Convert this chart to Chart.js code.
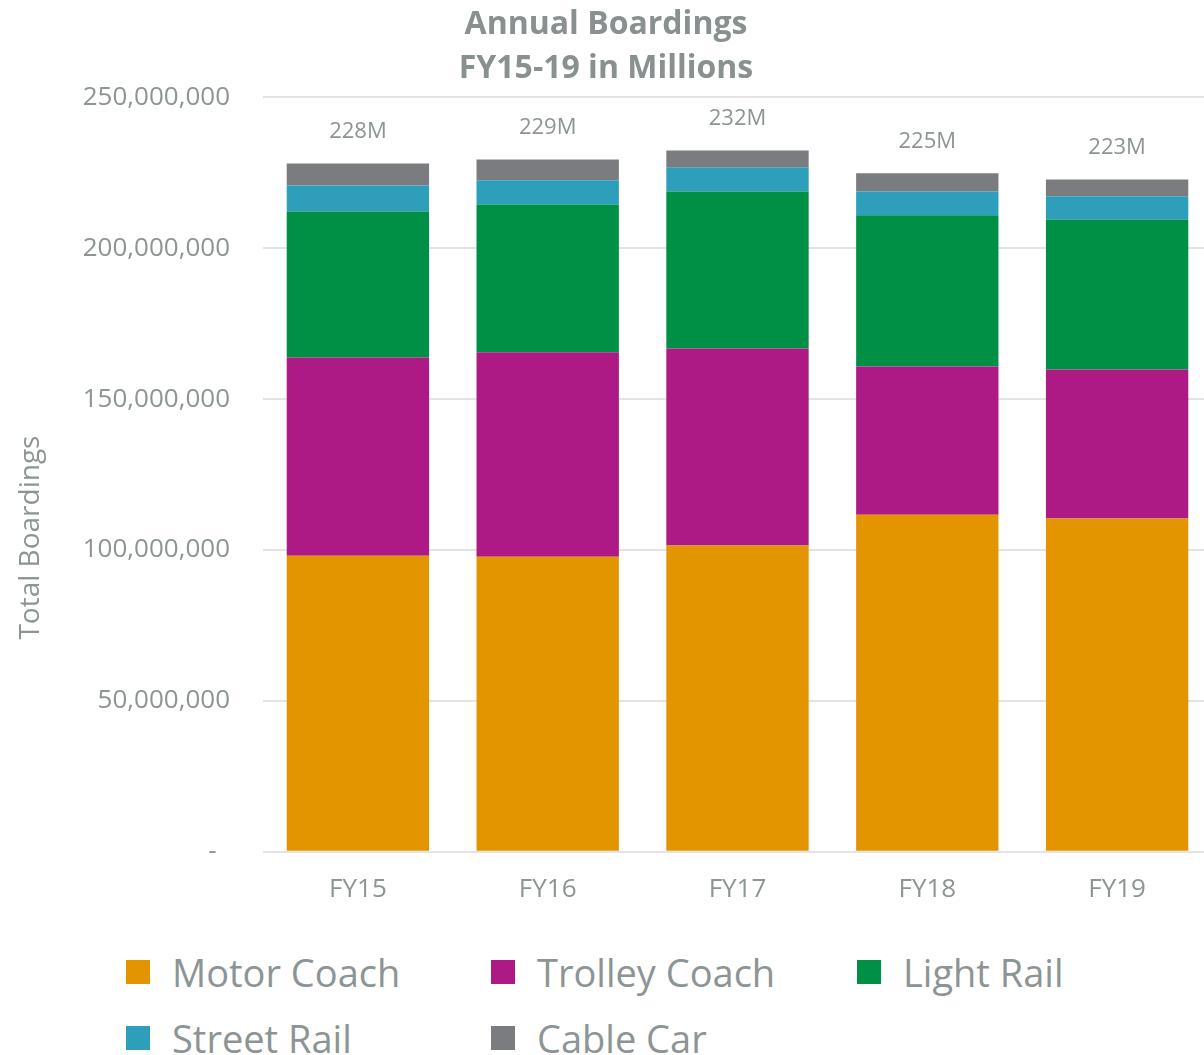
<!DOCTYPE html>
<html lang="en">
<head>
  <meta charset="UTF-8" />
  <title>Annual Boardings</title>
  <script src="https://cdn.jsdelivr.net/npm/chart.js"></script>
  <style>
    body {
      margin: 0;
      background: #fff;
      width: 1204px;
      height: 1055px;
      overflow: hidden;
      position: relative;
      font-family: 'Open Sans', sans-serif;
    }
    #wrap {
      position: absolute;
      left: 0;
      top: 0;
      width: 1212px;
      height: 919px;
    }
    .legend {
      position: absolute;
      left: 0;
      top: 0;
      width: 1204px;
    }
    .legend-item {
      position: absolute;
      display: flex;
      align-items: center;
      font-size: 38px;
      color: #8c9494;
      white-space: nowrap;
    }
    .legend-item span.box {
      width: 24px;
      height: 24px;
      margin-right: 22px;
      display: inline-block;
    }
  </style>
</head>
<body>
  <div id="wrap"><canvas id="chart"></canvas></div>
  <div class="legend" id="legend"></div>

  <script>
    const years = ['FY15', 'FY16', 'FY17', 'FY18', 'FY19'];
    const motorCoach   = [98100000, 97800000, 101500000, 111700000, 110400000];
    const trolleyCoach = [65700000, 67700000, 65300000, 49100000, 49400000];
    const lightRail    = [48400000, 49000000, 52000000, 50100000, 49700000];
    const streetRail   = [8600000, 8000000, 8000000, 7900000, 7700000];
    const cableCar     = [7300000, 6900000, 5600000, 6000000, 5600000];

    const textGray = '#8c9494';
    const font = "'Open Sans', sans-serif";

    const series = [
      { label: 'Motor Coach', data: motorCoach, color: '#e39500' },
      { label: 'Trolley Coach', data: trolleyCoach, color: '#ad1a85' },
      { label: 'Light Rail', data: lightRail, color: '#009045' },
      { label: 'Street Rail', data: streetRail, color: '#2e9fbb' },
      { label: 'Cable Car', data: cableCar, color: '#7b7c80' }
    ];

    // totals above each stack (e.g. 228M) and the y axis title, which sits
    // lower than the axis centre in the original
    const extras = {
      id: 'extras',
      afterDatasetsDraw(chart) {
        const ctx = chart.ctx;
        const area = chart.chartArea;
        const lastMeta = chart.getDatasetMeta(chart.data.datasets.length - 1);
        ctx.save();
        ctx.font = '22px ' + font;
        ctx.fillStyle = textGray;
        ctx.textAlign = 'center';
        ctx.textBaseline = 'middle';
        years.forEach((y, i) => {
          let sum = 0;
          chart.data.datasets.forEach(ds => { sum += ds.data[i]; });
          const bar = lastMeta.data[i];
          ctx.fillText(Math.round(sum / 1e6) + 'M', bar.x, bar.y - 32);
        });

        ctx.translate(31, (area.top + area.bottom) / 2 + 63);
        ctx.rotate(-Math.PI / 2);
        ctx.font = '28px ' + font;
        ctx.fillText('Total Boardings', 0, 0);
        ctx.restore();
      }
    };

    new Chart(document.getElementById('chart'), {
      type: 'bar',
      data: {
        labels: years,
        datasets: series.map(s => ({
          label: s.label,
          data: s.data,
          backgroundColor: s.color,
          borderWidth: 0,
          barPercentage: 0.75,
          categoryPercentage: 1
        }))
      },
      options: {
        responsive: true,
        maintainAspectRatio: false,
        animation: false,
        layout: { padding: { top: 0, right: 0, bottom: 0, left: 0 } },
        plugins: {
          legend: { display: false },
          tooltip: { enabled: false },
          title: {
            display: true,
            text: ['Annual Boardings', 'FY15-19 in Millions'],
            color: '#899090',
            font: { family: font, size: 32, weight: 'bold', lineHeight: 1.38 },
            padding: { top: 3, bottom: 6 }
          }
        },
        scales: {
          x: {
            stacked: true,
            grid: { display: false },
            border: { display: false },
            ticks: {
              color: textGray,
              font: { family: font, size: 26 },
              padding: 14
            }
          },
          y: {
            stacked: true,
            min: 0,
            max: 250000000,
            afterFit(scale) { scale.width = 263; },
            border: { display: false },
            grid: { color: '#e3e3e3', lineWidth: 2, drawTicks: false },
            ticks: {
              stepSize: 50000000,
              color: textGray,
              font: { family: font, size: 26 },
              padding: 33,
              callback: v => v === 0 ? '-  ' : v.toLocaleString('en-US')
            }
          }
        }
      },
      plugins: [extras]
    });

    // legend laid out as a 3-column grid
    const legend = document.getElementById('legend');
    const colX = [126, 491, 857];
    const rowY = [972, 1038];
    series.forEach((s, i) => {
      const item = document.createElement('div');
      item.className = 'legend-item';
      item.style.left = colX[i % 3] + 'px';
      item.style.top = (rowY[Math.floor(i / 3)] - 28) + 'px';
      item.style.height = '56px';
      const box = document.createElement('span');
      box.className = 'box';
      box.style.background = s.color;
      item.appendChild(box);
      item.appendChild(document.createTextNode(s.label));
      legend.appendChild(item);
    });
  </script>
</body>
</html>
